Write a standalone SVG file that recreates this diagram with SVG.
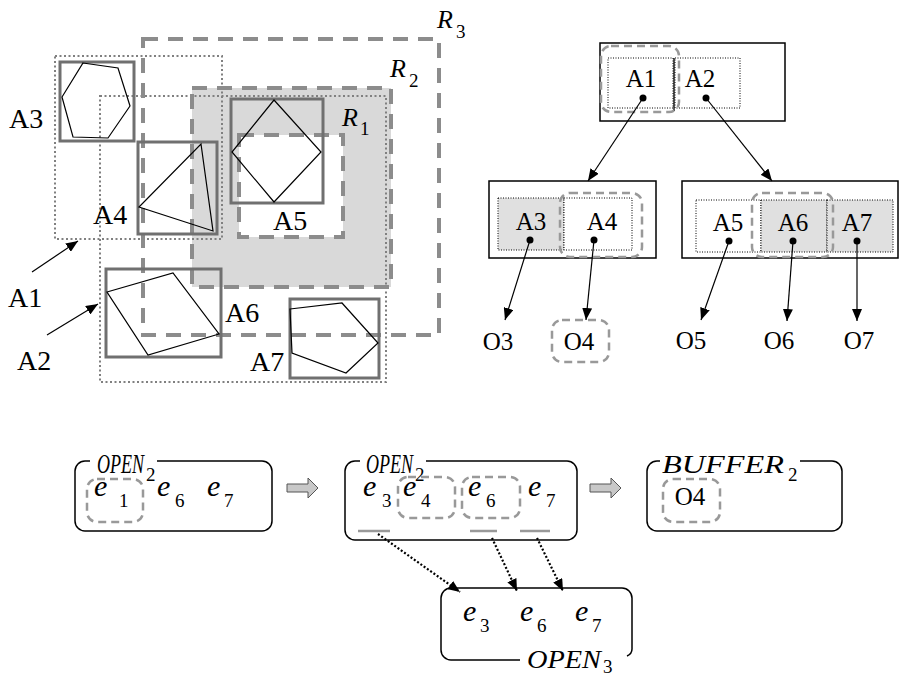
<svg xmlns="http://www.w3.org/2000/svg" width="902" height="676" viewBox="0 0 902 676">
<defs>
<style>
.bg{fill:#ffffff}
.rdash{fill:none;stroke:#8c8c8c;stroke-width:4;stroke-dasharray:15 10}
.dot{fill:none;stroke:#808080;stroke-width:2;stroke-dasharray:2 2.5}
.mbr{fill:none;stroke:#707070;stroke-width:3}
.poly{fill:none;stroke:#000;stroke-width:1.2}
.lbl{font-family:"Liberation Serif","Times New Roman",serif;font-size:28px;fill:#000}
.ital{font-family:"Liberation Serif","Times New Roman",serif;font-style:italic;fill:#000}
.tlbl{font-family:"Liberation Serif","Times New Roman",serif;font-size:25px;fill:#000;text-anchor:middle}
.sub{font-family:"Liberation Serif","Times New Roman",serif;font-size:19px;fill:#000}
.node{fill:#fff;stroke:#000;stroke-width:1.5}
.tdot{stroke:#000;stroke-width:1;stroke-dasharray:1 1.5}
.rnd{fill:none;stroke:#999;stroke-width:2.5;stroke-dasharray:8 5}
.edge{fill:none;stroke:#000;stroke-width:1.2}
.dedge{fill:none;stroke:#000;stroke-width:2.2;stroke-dasharray:2 2}
.box{fill:none;stroke:#000;stroke-width:1.5}
.bar{stroke:#999;stroke-width:2.5}
.blk{fill:#c8c8c8;stroke:#555;stroke-width:1}
</style>
<marker id="ah" viewBox="0 0 12 10" refX="12" refY="5" markerWidth="12" markerHeight="10" markerUnits="userSpaceOnUse" orient="auto">
<path d="M0,0 L12,5 L0,10 z" fill="#000"/>
</marker>
</defs>
<rect class="bg" x="0" y="0" width="902" height="676"/>

<g id="spatial">
<rect x="192" y="88" width="199" height="199" fill="#d9d9d9"/>
<rect x="239" y="135" width="104" height="102" fill="#ffffff"/>
<rect class="dot" x="55" y="56" width="167" height="183"/>
<rect class="dot" x="100" y="96" width="286" height="286"/>
<rect class="rdash" x="143" y="39" width="296" height="296"/>
<rect class="rdash" x="192" y="88" width="199" height="199"/>
<rect class="rdash" x="239" y="135" width="104" height="102"/>
<rect class="mbr" x="60" y="62" width="74" height="79"/>
<rect class="mbr" x="138" y="142" width="79" height="92"/>
<rect class="mbr" x="231" y="99" width="92" height="104"/>
<rect class="mbr" x="106" y="269" width="115" height="88"/>
<rect class="mbr" x="290" y="299" width="89" height="79"/>
<polygon class="poly" points="83,63 118,68 130,106 108,138 73,137 62,97"/>
<polygon class="poly" points="201,144 213,231 139,207"/>
<polygon class="poly" points="274,100 321,152 274,202 232,152"/>
<polygon class="poly" points="107,292 173,273 219,334 148,355"/>
<polygon class="poly" points="290,309 342,303 378,343 346,373 292,353"/>
<text class="lbl" x="9" y="128">A3</text>
<text class="lbl" x="93" y="224">A4</text>
<text class="lbl" x="273" y="230">A5</text>
<text class="lbl" x="8" y="307">A1</text>
<text class="lbl" x="17" y="370">A2</text>
<text class="lbl" x="225" y="322">A6</text>
<text class="lbl" x="250" y="371">A7</text>
<text class="ital" x="437" y="28" font-size="26">R</text><text class="sub" x="456" y="38">3</text>
<text class="ital" x="390" y="77" font-size="26">R</text><text class="sub" x="409" y="87">2</text>
<text class="ital" x="342" y="126" font-size="26">R</text><text class="sub" x="360" y="135">1</text>
<line class="edge" x1="32" y1="272" x2="78" y2="241" marker-end="url(#ah)"/>
<line class="edge" x1="47" y1="335" x2="98" y2="304" marker-end="url(#ah)"/>
</g>

<g id="root">
<rect class="node" x="600" y="43" width="185" height="78"/>
<rect class="tdot" x="608" y="58" width="65" height="50" fill="#fff"/>
<rect class="tdot" x="675" y="58" width="65" height="50" fill="#fff"/>
<line x1="674" y1="58" x2="674" y2="111" stroke="#000" stroke-width="1.3"/>
<rect class="rnd" x="601" y="46" width="78" height="66" rx="10"/>
<text class="tlbl" x="641" y="87">A1</text>
<text class="tlbl" x="700" y="87">A2</text>
<circle cx="643" cy="98" r="3.5"/>
<circle cx="706" cy="98" r="3.5"/>
</g>

<g id="node1">
<rect class="node" x="489" y="181" width="167" height="77"/>
<rect class="tdot" x="498" y="198" width="66" height="52" fill="#e0e0e0"/>
<rect class="tdot" x="564" y="198" width="68" height="52" fill="#fff"/>
<rect class="rnd" x="560" y="193" width="82" height="64" rx="10"/>
<text class="tlbl" x="531" y="230">A3</text>
<text class="tlbl" x="602" y="230">A4</text>
<circle cx="530" cy="240" r="3.5"/>
<circle cx="594" cy="240" r="3.5"/>
</g>

<g id="node2">
<rect class="node" x="682" y="181" width="216" height="77"/>
<rect class="tdot" x="696" y="200" width="65" height="52" fill="#fff"/>
<rect class="tdot" x="761" y="200" width="66" height="52" fill="#e0e0e0"/>
<rect class="tdot" x="827" y="200" width="66" height="52" fill="#e0e0e0"/>
<rect class="rnd" x="752" y="193" width="81" height="64" rx="10"/>
<text class="tlbl" x="728" y="231">A5</text>
<text class="tlbl" x="793" y="231">A6</text>
<text class="tlbl" x="857" y="231">A7</text>
<circle cx="729" cy="241" r="3.5"/>
<circle cx="793" cy="241" r="3.5"/>
<circle cx="857" cy="241" r="3.5"/>
</g>

<g id="objects">
<text class="tlbl" x="498" y="350">O3</text>
<rect class="rnd" x="552" y="320" width="57" height="42" rx="10"/>
<text class="tlbl" x="579" y="350">O4</text>
<text class="tlbl" x="691" y="349">O5</text>
<text class="tlbl" x="779" y="349">O6</text>
<text class="tlbl" x="859" y="349">O7</text>
</g>

<g id="open2a">
<path class="box" d="M157,461 H262 A10,10 0 0 1 272,471 V521 A10,10 0 0 1 262,531 H85 A10,10 0 0 1 75,521 V471 A10,10 0 0 1 85,461 H90"/>
<text class="ital" x="97" y="473" font-size="27" textLength="47" lengthAdjust="spacingAndGlyphs">OPEN</text><text class="sub" x="146" y="481" font-size="17">2</text>
<rect class="rnd" x="87" y="479" width="56" height="43" rx="10"/>
<text class="ital" x="94" y="496" font-size="30">e</text><text class="sub" x="119" y="507">1</text>
<text class="ital" x="157" y="496" font-size="30">e</text><text class="sub" x="175" y="507">6</text>
<text class="ital" x="207" y="496" font-size="30">e</text><text class="sub" x="224" y="507">7</text>
</g>

<g id="open2b">
<path class="box" d="M426,461 H567 A10,10 0 0 1 577,471 V530 A10,10 0 0 1 567,540 H355 A10,10 0 0 1 345,530 V471 A10,10 0 0 1 355,461 H360"/>
<text class="ital" x="366" y="473" font-size="27" textLength="47" lengthAdjust="spacingAndGlyphs">OPEN</text><text class="sub" x="415" y="481" font-size="17">2</text>
<rect class="rnd" x="398" y="477" width="57" height="41" rx="10"/>
<rect class="rnd" x="462" y="477" width="58" height="41" rx="10"/>
<text class="ital" x="363" y="496" font-size="30">e</text><text class="sub" x="382" y="507">3</text>
<text class="ital" x="403" y="496" font-size="30">e</text><text class="sub" x="421" y="507">4</text>
<text class="ital" x="468" y="496" font-size="30">e</text><text class="sub" x="486" y="507">6</text>
<text class="ital" x="528" y="496" font-size="30">e</text><text class="sub" x="546" y="507">7</text>
<line class="bar" x1="358" y1="531" x2="390" y2="531"/>
<line class="bar" x1="470" y1="531" x2="497" y2="531"/>
<line class="bar" x1="520" y1="531" x2="550" y2="531"/>
</g>

<g id="buffer2">
<path class="box" d="M800,461 H832 A10,10 0 0 1 842,471 V521 A10,10 0 0 1 832,531 H657 A10,10 0 0 1 647,521 V471 A10,10 0 0 1 657,461 H660"/>
<text class="ital" x="662" y="473" font-size="26" textLength="122" lengthAdjust="spacingAndGlyphs">BUFFER</text><text class="sub" x="788" y="481" font-size="17">2</text>
<rect class="rnd" x="663" y="479" width="57" height="43" rx="10"/>
<text class="tlbl" x="690" y="505" font-size="24">O4</text>
</g>

<g id="open3">
<path class="box" d="M520,660 H451 A10,10 0 0 1 441,650 V598 A10,10 0 0 1 451,588 H622 A10,10 0 0 1 632,598 V648 A8,8 0 0 1 627,656"/>
<text class="ital" x="527" y="668" font-size="26" textLength="74" lengthAdjust="spacingAndGlyphs">OPEN</text><text class="sub" x="603" y="673" font-size="17">3</text>
<text class="ital" x="463" y="621" font-size="30">e</text><text class="sub" x="480" y="632">3</text>
<text class="ital" x="520" y="621" font-size="30">e</text><text class="sub" x="537" y="632">6</text>
<text class="ital" x="575" y="621" font-size="30">e</text><text class="sub" x="592" y="632">7</text>
</g>

<g id="connectors">
<line class="edge" x1="643" y1="98" x2="588" y2="181" marker-end="url(#ah)"/>
<line class="edge" x1="706" y1="98" x2="772" y2="181" marker-end="url(#ah)"/>
<line class="edge" x1="530" y1="240" x2="505" y2="320" marker-end="url(#ah)"/>
<line class="edge" x1="594" y1="240" x2="586" y2="320" marker-end="url(#ah)"/>
<line class="edge" x1="729" y1="241" x2="701" y2="320" marker-end="url(#ah)"/>
<line class="edge" x1="793" y1="241" x2="787" y2="321" marker-end="url(#ah)"/>
<line class="edge" x1="857" y1="241" x2="857" y2="321" marker-end="url(#ah)"/>
<line class="dedge" x1="378" y1="534" x2="460" y2="592" marker-end="url(#ah)"/>
<line class="dedge" x1="492" y1="538" x2="517" y2="591" marker-end="url(#ah)"/>
<line class="dedge" x1="537" y1="538" x2="563" y2="591" marker-end="url(#ah)"/>
<path class="blk" d="M287,484 H308 V478 L318,488 L308,498 V492 H287 Z"/>
<path class="blk" d="M590,484 H611 V478 L621,488 L611,498 V492 H590 Z"/>
</g>
</svg>
